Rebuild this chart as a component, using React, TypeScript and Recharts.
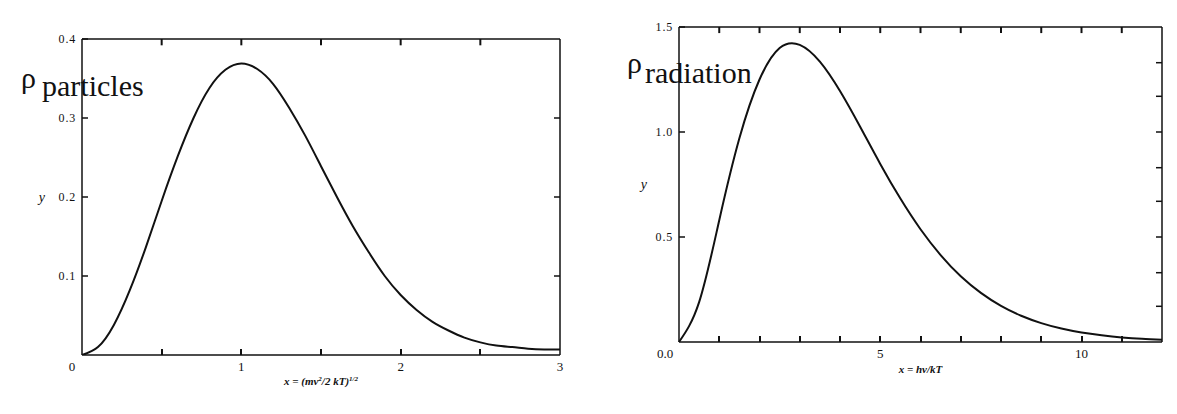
import { LineChart, Line, XAxis, YAxis, Label, ReferenceLine } from 'recharts'

const INK = '#111'
const SERIF = "'Liberation Serif', 'DejaVu Serif', serif"
const TICK = 6

// particles: x = (mv^2/2kT)^1/2
const particleX = [0, 0.1, 0.2, 0.3, 0.4, 0.5, 0.6, 0.7, 0.8, 0.9, 1.0, 1.1, 1.2, 1.3, 1.4, 1.5, 1.6, 1.7, 1.8, 1.9, 2.0, 2.1, 2.2, 2.3, 2.4, 2.5, 2.6, 2.7, 2.8, 2.9, 3.0]
const particleY = [0, 0.01, 0.038, 0.082, 0.136, 0.195, 0.251, 0.3, 0.338, 0.361, 0.369, 0.362, 0.343, 0.313, 0.278, 0.239, 0.2, 0.163, 0.13, 0.1, 0.076, 0.057, 0.042, 0.031, 0.022, 0.016, 0.012, 0.01, 0.008, 0.007, 0.007]

// radiation: x = hv/kT
const radiationX = [0, 0.5, 1, 1.5, 2, 2.5, 3, 3.5, 4, 4.5, 5, 5.5, 6, 6.5, 7, 7.5, 8, 8.5, 9, 9.5, 10, 10.5, 11, 11.5, 12]
const radiationY = [0, 0.19, 0.58, 0.97, 1.25, 1.4, 1.415, 1.335, 1.195, 1.025, 0.848, 0.683, 0.537, 0.414, 0.313, 0.234, 0.172, 0.125, 0.09, 0.064, 0.045, 0.032, 0.022, 0.015, 0.011]

const particleXTicks = [0, 0.5, 1, 1.5, 2, 2.5, 3]
const particleTopTicks = [0.5, 1, 1.5, 2, 2.5]
const particleXLabels: Record<number, string> = { 0: '0', 1: '1', 2: '2', 3: '3' }
const particleYTicks = [0.1, 0.2, 0.3, 0.4]
const particleYLabels: Record<number, string> = { 0.1: '0.1', 0.2: '0.2', 0.3: '0.3', 0.4: '0.4' }
const particleRightTicks = [0.1, 0.2, 0.3]

const radiationXTicks = [0, 1, 2, 3, 4, 5, 6, 7, 8, 9, 10, 11, 12]
const radiationTopTicks = [1, 2, 3, 4, 5, 6, 7, 8, 9, 10, 11]
const radiationXLabels: Record<number, string> = { 0: '0.0', 5: '5', 10: '10' }
const radiationYTicks = [0.5, 1.0, 1.5]
const radiationYLabels: Record<number, string> = { 0.5: '0.5', 1: '1.0', 1.5: '1.5' }
const radiationRightTicks = [0.17, 0.33, 0.5, 0.67, 0.83, 1.0, 1.17, 1.33]

const particleData = particleX.map((x, i) => ({ x, y: particleY[i] }))
const radiationData = radiationX.map((x, i) => ({ x, y: radiationY[i] }))

// tickSize/tickMargin are 0, so x,y below sit right on the axis line
function BottomTick({ x, y, payload, labels, zeroShift, lastValue }: any) {
  const label = labels?.[payload.value]
  const dx = payload.value === 0 ? zeroShift : 0
  const edge = payload.value === 0 || payload.value === lastValue
  const px = Math.round(x)
  return (
    <g>
      {!edge && <line x1={px} x2={px} y1={y} y2={y - TICK} stroke={INK} strokeWidth={2} />}
      {label && (
        <text x={x + dx} y={y + 16} textAnchor="middle" fontFamily="Liberation Serif" fontSize={13} fill={INK}>{label}</text>
      )}
    </g>
  )
}

function LeftTick({ x, y, payload, labels }: any) {
  const label = labels?.[payload.value]
  return (
    <g>
      <line x1={x} x2={x + TICK} y1={y} y2={y} stroke={INK} strokeWidth={1.5} />
      {label && (
        <text x={x - 6} y={y + 4} textAnchor="end" fontFamily="Liberation Serif" fontSize={12} letterSpacing={0.8} fill={INK}>{label}</text>
      )}
    </g>
  )
}

function RightTick({ x, y }: any) {
  return <line x1={x} x2={x - TICK} y1={y} y2={y} stroke={INK} strokeWidth={1.5} />
}

function ParticleTitle({ viewBox }: any) {
  const cx = viewBox.x + viewBox.width / 2
  const y = viewBox.y + 30
  return (
    <text x={cx} y={y} textAnchor="middle" fontFamily="Liberation Serif" fontSize={11} fontStyle="italic" fontWeight="bold" fill={INK}>
      x = (mv<tspan dy={-4} fontSize={7}>2</tspan><tspan dy={4}>/2 kT)</tspan><tspan dy={-4} fontSize={7}>1/2</tspan>
    </text>
  )
}

function RadiationTitle({ viewBox }: any) {
  const cx = viewBox.x + viewBox.width / 2
  const y = viewBox.y + 31
  return (
    <text x={cx} y={y} textAnchor="middle" fontFamily="Liberation Serif" fontSize={11} fontStyle="italic" fontWeight="bold" fill={INK}>
      x = hν/kT
    </text>
  )
}

const axisLine = { stroke: INK, strokeWidth: 1.5 }
const yLabelStyle = { fontFamily: SERIF, fontStyle: 'italic', fontSize: 14, fill: INK }

function ParticleChart() {
  return (
    <LineChart width={600} height={414} data={particleData} margin={{ top: 38, right: 39, bottom: 58, left: 81 }}>
      <XAxis dataKey="x" type="number" domain={[0, 3]} ticks={particleXTicks} interval={0} height={1}
        axisLine={axisLine} tickLine={false} tickSize={0} tickMargin={0}
        tick={<BottomTick labels={particleXLabels} lastValue={3} zeroShift={-10} />}>
        <Label content={<ParticleTitle />} />
      </XAxis>
      <XAxis xAxisId="top" orientation="top" dataKey="x" type="number" domain={[0, 3]} height={1}
        axisLine={axisLine} tickLine={false} tick={false} allowDataOverflow />
      <YAxis dataKey="y" type="number" domain={[0, 0.4]} ticks={particleYTicks} interval={0} width={1}
        axisLine={axisLine} tickLine={false} tickSize={0} tickMargin={0}
        tick={<LeftTick labels={particleYLabels} />} allowDataOverflow>
        <Label value="y" position="left" offset={36} style={yLabelStyle} />
      </YAxis>
      <YAxis yAxisId="right" orientation="right" dataKey="y" type="number" domain={[0, 0.4]} ticks={particleRightTicks} interval={0} width={1}
        axisLine={axisLine} tickLine={false} tickSize={0} tickMargin={0} tick={<RightTick />} allowDataOverflow />
      {/* inward ticks hanging from the top edge */}
      {particleTopTicks.map(v => (
        <ReferenceLine key={v} segment={[{ x: v, y: 0.4 }, { x: v, y: 0.392 }]} stroke={INK} strokeWidth={2} ifOverflow="visible" />
      ))}
      {/* invisible twin so the top/right frame axes get a domain */}
      <Line xAxisId="top" yAxisId="right" dataKey="y" stroke="none" dot={false} legendType="none" isAnimationActive={false} />
      <Line type="natural" dataKey="y" stroke={INK} strokeWidth={2} dot={false} isAnimationActive={false} />
    </LineChart>
  )
}

function RadiationChart() {
  return (
    <LineChart width={577} height={414} data={radiationData} margin={{ top: 26, right: 14, bottom: 71, left: 78 }}>
      <XAxis dataKey="x" type="number" domain={[0, 12]} ticks={radiationXTicks} interval={0} height={1}
        axisLine={axisLine} tickLine={false} tickSize={0} tickMargin={0}
        tick={<BottomTick labels={radiationXLabels} lastValue={12} zeroShift={-14} />}>
        <Label content={<RadiationTitle />} />
      </XAxis>
      <XAxis xAxisId="top" orientation="top" dataKey="x" type="number" domain={[0, 12]} height={1}
        axisLine={axisLine} tickLine={false} tick={false} allowDataOverflow />
      <YAxis dataKey="y" type="number" domain={[0, 1.5]} ticks={radiationYTicks} interval={0} width={1}
        axisLine={axisLine} tickLine={false} tickSize={0} tickMargin={0}
        tick={<LeftTick labels={radiationYLabels} />} allowDataOverflow>
        <Label value="y" position="left" offset={31} style={yLabelStyle} />
      </YAxis>
      <YAxis yAxisId="right" orientation="right" dataKey="y" type="number" domain={[0, 1.5]} ticks={radiationRightTicks} interval={0} width={1}
        axisLine={axisLine} tickLine={false} tickSize={0} tickMargin={0} tick={<RightTick />} allowDataOverflow />
      {radiationTopTicks.map(v => (
        <ReferenceLine key={v} segment={[{ x: v, y: 1.5 }, { x: v, y: 1.471 }]} stroke={INK} strokeWidth={2} ifOverflow="visible" />
      ))}
      <Line xAxisId="top" yAxisId="right" dataKey="y" stroke="none" dot={false} legendType="none" isAnimationActive={false} />
      <Line type="natural" dataKey="y" stroke={INK} strokeWidth={2} dot={false} isAnimationActive={false} />
    </LineChart>
  )
}

export default function App() {
  return (
    <div style={{ position: 'absolute', left: 0, top: 0, width: 1177, height: 414, background: '#fff' }}>
      <div style={{ position: 'absolute', left: 0, top: 0 }}>
        <ParticleChart />
      </div>
      <div style={{ position: 'absolute', left: 600, top: 0 }}>
        <RadiationChart />
      </div>
      <svg width={1177} height={414} style={{ position: 'absolute', left: 0, top: 0, pointerEvents: 'none' }}>
        <text x={21} y={88} fontFamily="Liberation Serif" fontSize={30} fill={INK}>ρ</text>
        <text x={42} y={96} fontFamily="Liberation Serif" fontSize={30} fill={INK}>particles</text>
        <text x={627} y={73} fontFamily="Liberation Serif" fontSize={30} fill={INK}>ρ</text>
        <text x={645} y={83} fontFamily="Liberation Serif" fontSize={30} fill={INK}>radiation</text>
      </svg>
    </div>
  )
}
